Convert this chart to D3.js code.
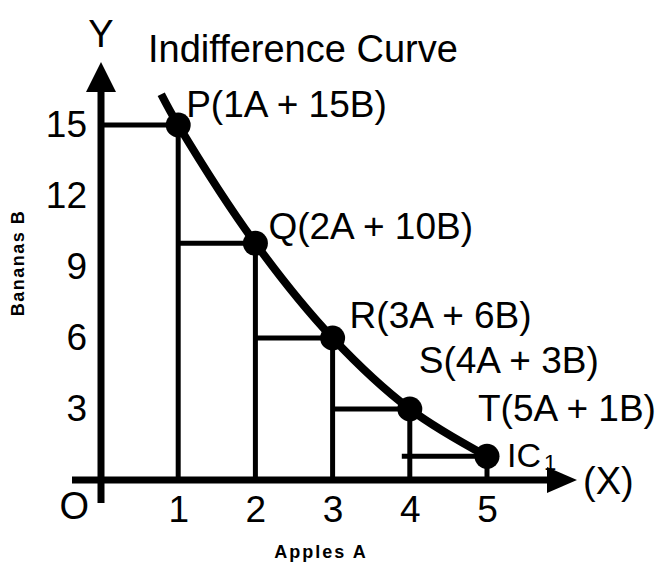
<!DOCTYPE html>
<html lang="en">
<head>
    <meta charset="UTF-8">
    <script src="https://cdn.jsdelivr.net/npm/d3@7"></script>
    <title>Indifference Curve</title>
    <style>
        body { margin: 0; background: #fff; }
        text { font-family: "Liberation Sans", Arial, sans-serif; fill: #000; }
    </style>
</head>
<body>
    <script>
        // data
        const pointNames = ["P", "Q", "R", "S", "T"];
        const apples = [1, 2, 3, 4, 5];
        const bananas = [15, 10, 6, 3, 1];
        const curveStart = [0.78, 16.3];   // where the drawn curve begins, above P
        const xTicks = [1, 2, 3, 4, 5];
        const yTicks = [3, 6, 9, 12, 15];

        const w = 664;
        const h = 562;
        // label nudges (layout only)
        const labelOffsets = [[8, -8], [13, -4], [17, -10], [9, -36], [-9, -35]];

        const x = d3.scaleLinear().domain([0, 5]).range([101, 487]);
        const y = d3.scaleLinear().domain([0, 15]).range([480, 125]);

        const svg = d3.select("body")
                        .append("svg")
                        .attr("width", w)
                        .attr("height", h);

        svg.append("rect").attr("width", w).attr("height", h).attr("fill", "#fff");

        const points = apples.map((a, i) => ({name: pointNames[i], a: a, b: bananas[i]}));

        // drop lines: vertical from each point, horizontal back to previous column
        svg.selectAll("line.v")
            .data(points)
            .enter()
            .append("line")
            .attr("class", "v")
            .attr("x1", d => x(d.a)).attr("x2", d => x(d.a))
            .attr("y1", d => y(d.b)).attr("y2", y(0))
            .attr("stroke", "#000").attr("stroke-width", 5);

        svg.selectAll("line.hz")
            .data(points)
            .enter()
            .append("line")
            .attr("class", "hz")
            .attr("x1", (d, i) => i === 0 ? x(0) : x(apples[i - 1]) - (i === 4 ? 8 : 0))
            .attr("x2", d => x(d.a))
            .attr("y1", d => y(d.b)).attr("y2", d => y(d.b))
            .attr("stroke", "#000").attr("stroke-width", 5);

        // axes with arrowheads
        const x0 = x(0), y0 = y(0);
        svg.append("line")
            .attr("x1", x0).attr("x2", x0)
            .attr("y1", y0 + 23).attr("y2", 90)
            .attr("stroke", "#000").attr("stroke-width", 7);
        svg.append("path")
            .attr("d", `M${x0},62 L${x0 - 15},92 L${x0 + 15},92 Z`)
            .attr("fill", "#000");
        svg.append("line")
            .attr("x1", 72).attr("x2", 549)
            .attr("y1", y0).attr("y2", y0)
            .attr("stroke", "#000").attr("stroke-width", 7);
        svg.append("path")
            .attr("d", `M577,${y0} L547,${y0 - 13} L547,${y0 + 13} Z`)
            .attr("fill", "#000");

        // tick labels
        const xAxis = svg.append("g")
            .attr("transform", "translate(0," + y0 + ")")
            .call(d3.axisBottom(x).tickValues(xTicks).tickFormat(d3.format("d")).tickSize(0).tickPadding(16));
        const yAxis = svg.append("g")
            .attr("transform", "translate(" + x0 + ",0)")
            .call(d3.axisLeft(y).tickValues(yTicks).tickFormat(d3.format("d")).tickSize(0).tickPadding(14));
        [xAxis, yAxis].forEach(g => {
            g.select(".domain").remove();
            g.selectAll("text")
                .style("font-family", '"Liberation Sans", Arial, sans-serif')
                .style("font-size", "37px")
                .attr("fill", "#000");
        });

        // indifference curve
        const curveData = [curveStart].concat(points.map(d => [d.a, d.b]));
        svg.append("path")
            .datum(curveData)
            .attr("d", d3.line().x(d => x(d[0])).y(d => y(d[1])).curve(d3.curveCatmullRom))
            .attr("fill", "none")
            .attr("stroke", "#000")
            .attr("stroke-width", 8);

        svg.selectAll("circle")
            .data(points)
            .enter()
            .append("circle")
            .attr("cx", d => x(d.a))
            .attr("cy", d => y(d.b))
            .attr("r", 12.5)
            .attr("fill", "#000");

        svg.selectAll("text.pt")
            .data(points)
            .enter()
            .append("text")
            .attr("class", "pt")
            .attr("x", (d, i) => x(d.a) + labelOffsets[i][0])
            .attr("y", (d, i) => y(d.b) + labelOffsets[i][1])
            .style("font-size", "37px")
            .text(d => `${d.name}(${d.a}A + ${d.b}B)`);

        // other text
        svg.append("text").attr("x", 148).attr("y", 62).style("font-size", "38px").text("Indifference Curve");
        svg.append("text").attr("x", x0).attr("y", 47).attr("text-anchor", "middle").style("font-size", "38px").text("Y");
        svg.append("text").attr("x", x0 - 12).attr("y", y0 + 39).attr("text-anchor", "end").style("font-size", "38px").text("O");
        svg.append("text").attr("x", 583).attr("y", y0 + 14).style("font-size", "38px").text("(X)");

        const ic = svg.append("text").attr("x", 507).attr("y", 467).style("font-size", "34px");
        ic.append("tspan").text("IC");
        ic.append("tspan").attr("dx", 3).attr("dy", 3).style("font-size", "22px").text("1");

        svg.append("text")
            .attr("x", 321).attr("y", 558)
            .attr("text-anchor", "middle")
            .style("font-size", "18px").style("font-weight", "bold").style("letter-spacing", "2px")
            .text("Apples  A");
        svg.append("text")
            .attr("transform", "translate(24,263) rotate(-90)")
            .attr("text-anchor", "middle")
            .style("font-size", "18px").style("font-weight", "bold").style("letter-spacing", "1.5px")
            .text("Bananas  B");
    </script>
</body>
</html>
